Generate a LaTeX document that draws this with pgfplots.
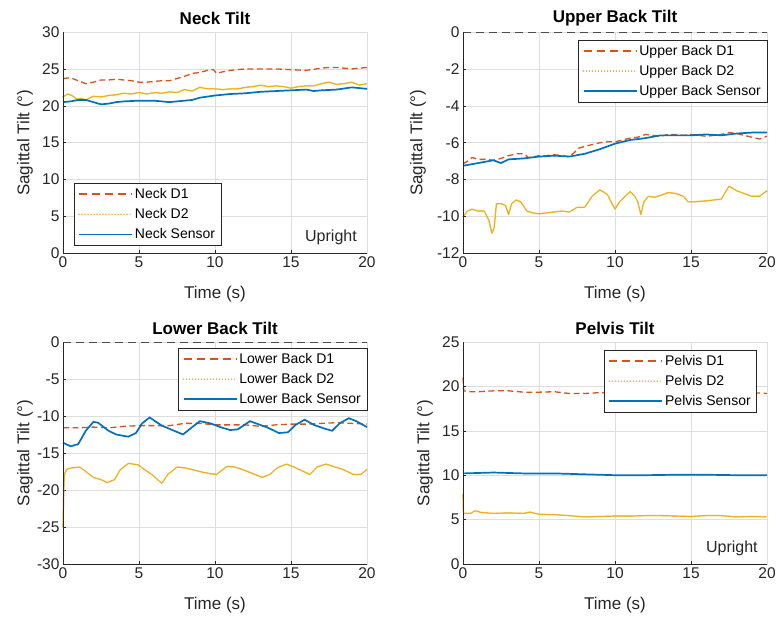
\documentclass[border=0pt]{standalone}
\usepackage{fontspec}
\setmainfont{Liberation Sans}
\usepackage{pgfplots}
\pgfplotsset{compat=1.18}
\definecolor{mblue}{rgb}{0,0.447,0.741}
\definecolor{morange}{rgb}{0.85,0.325,0.098}
\definecolor{myellow}{rgb}{0.929,0.694,0.125}
\pgfplotsset{
 tiltax/.style={
  scale only axis, width=304pt, height=222pt,
  xmin=0, xmax=20, xtick={0,5,...,20},
  axis line style={color=black!13, line width=0.5pt},
  xtick pos=bottom, ytick pos=left,
  tick align=inside, major tick length=3pt,
  tick style={color=black!85, line width=0.5pt},
  grid=major, grid style={color=black!13, line width=0.5pt},
  /pgf/number format/assume math mode=true,
  ticklabel style={font=\fontsize{15.5}{17}\selectfont, text=black!85},
  xlabel={Time (s)}, ylabel={Sagittal Tilt (°)},
  every axis title/.style={at={(axis description cs:0.5,1)}, anchor=center, yshift=14pt, font=\bfseries\fontsize{17}{19}\selectfont},
  every axis x label/.style={at={(axis description cs:0.5,0)}, anchor=center, yshift=-41pt, font=\fontsize{17}{19}\selectfont, text=black!85},
  every axis y label/.style={at={(axis description cs:0,0.5)}, anchor=center, rotate=90, yshift=38pt, font=\fontsize{17}{19}\selectfont, text=black!85},
  legend style={font=\fontsize{14}{16}\selectfont, draw=black!85, line width=0.5pt, fill=white, cells={anchor=west}, inner xsep=4pt, inner ysep=3pt, row sep=4.5pt},
  legend image code/.code={\draw[#1] (0pt,0pt) -- (48pt,0pt); \path (0pt,0pt) -- (53pt,0pt);},
  clip=false,
 },
 d1/.style={color=morange, line width=1.3pt, dash pattern=on 6pt off 3.5pt},
 d1leg/.style={draw=morange, line width=1.5pt, dash pattern=on 8pt off 5pt},
 d2/.style={color=myellow, line width=1.7pt, line cap=round, dash pattern=on 0pt off 1.0pt},
 d2leg/.style={draw=myellow, line width=1.4pt, line cap=round, dash pattern=on 0pt off 3pt},
 sen/.style={color=mblue, line width=1.7pt},
 zline/.style={color=black!70, line width=0.6pt, dash pattern=on 8pt off 5pt},
}
\newcommand{\axframe}{\draw[black!85, line width=0.5pt] (rel axis cs:0,1) -- (rel axis cs:0,0) -- (rel axis cs:1,0);}
\newcommand{\threelegend}[1]{%
  \addlegendimage{d1leg}\addlegendentry{#1 D1}%
  \addlegendimage{d2leg}\addlegendentry{#1 D2}%
  \addlegendimage{sen}\addlegendentry{#1 Sensor}}
\begin{document}
\begin{tikzpicture}
\useasboundingbox (0,0) rectangle (779pt,617pt);
% ---------------- Neck
\begin{axis}[tiltax, at={(63pt,363.5pt)}, anchor=south west, height=221.5pt,
  ymin=0, ymax=30, ytick={0,5,...,30}, title={Neck Tilt},
  legend style={at={(axis description cs:0.036,0.036)}, anchor=south west}]
\threelegend{Neck}
\addplot[d1, forget plot] coordinates {(0,23.7)(0.5,23.8)(1,23.4)(1.5,23.0)(2,23.2)(2.5,23.5)(3,23.5)(3.5,23.6)(4,23.5)(4.5,23.4)(5,23.2)(5.5,23.2)(6,23.3)(6.5,23.4)(7,23.4)(7.5,23.7)(8,24.0)(8.5,24.4)(9,24.5)(9.5,24.8)(9.9,24.9)(10.1,24.4)(10.5,24.6)(11,24.8)(12,25.0)(13,25.0)(14,25.0)(15,24.9)(16,24.8)(17,25.1)(17.5,25.2)(18,25.2)(19,25.0)(20,25.2)};
\addplot[d2, forget plot] coordinates {(0,21.2)(0.3,21.6)(0.6,21.4)(0.9,20.9)(1.2,21.0)(1.5,20.8)(2,21.3)(2.5,21.2)(3,21.4)(3.5,21.5)(4,21.7)(4.5,21.6)(5,21.8)(5.5,21.6)(6,21.8)(6.5,21.7)(7,21.9)(7.5,21.8)(8,22.2)(8.5,22.0)(9,22.5)(9.5,22.3)(10,22.3)(10.5,22.2)(11,22.3)(11.5,22.3)(12,22.5)(12.5,22.6)(13,22.8)(13.5,22.6)(14,22.7)(14.5,22.6)(15,22.4)(15.5,22.6)(16,22.7)(16.5,22.7)(17,23.0)(17.5,23.2)(18,22.9)(18.5,23.0)(19,23.2)(19.5,22.8)(20,23.0)};
\addplot[sen, forget plot] coordinates {(0,20.5)(0.5,20.6)(1,20.8)(1.5,20.8)(2,20.5)(2.5,20.2)(3,20.3)(3.5,20.5)(4,20.6)(5,20.7)(6,20.7)(7,20.5)(8,20.7)(8.5,20.8)(9,21.1)(10,21.4)(11,21.6)(12,21.7)(13,21.9)(14,22.0)(15,22.1)(16,22.2)(16.5,22.0)(17,22.1)(18,22.2)(19,22.5)(20,22.3)};
\axframe
\node[anchor=south east, font=\fontsize{16}{18}\selectfont, text=black!85, inner sep=0pt] at (axis description cs:0.967,0.04) {Upright};
\end{axis}
% ---------------- Upper back
\begin{axis}[tiltax, at={(463pt,363.5pt)}, anchor=south west, height=221.5pt,
  ymin=-12, ymax=0, ytick={-12,-10,...,0}, title={Upper Back Tilt},
  every axis y label/.append style={yshift=7pt},
  legend style={at={(axis description cs:1,0.964)}, anchor=north east}]
\threelegend{Upper Back}
\addplot[zline, forget plot] coordinates {(0,0)(20,0)};
\addplot[d1, forget plot] coordinates {(0,-7.15)(0.3,-7.0)(0.6,-6.8)(1,-6.9)(1.5,-6.9)(2,-6.95)(2.5,-6.85)(3,-6.7)(3.5,-6.6)(4,-6.6)(4.3,-6.8)(4.7,-6.75)(5,-6.7)(5.5,-6.7)(6,-6.65)(6.5,-6.7)(7,-6.75)(7.3,-6.55)(7.6,-6.3)(8,-6.2)(8.5,-6.1)(9,-6.0)(9.5,-5.95)(10,-5.95)(10.5,-5.85)(11,-5.75)(11.5,-5.7)(12,-5.55)(12.5,-5.6)(13,-5.65)(13.5,-5.55)(14,-5.55)(14.5,-5.6)(15,-5.55)(15.5,-5.6)(16,-5.65)(16.5,-5.6)(17,-5.55)(17.5,-5.45)(18,-5.5)(18.5,-5.6)(19,-5.7)(19.5,-5.8)(20,-5.65)};
\addplot[d2, forget plot] coordinates {(0,-10.0)(0.3,-9.7)(0.6,-9.6)(1,-9.7)(1.4,-9.7)(1.7,-10.2)(1.9,-10.9)(2.05,-10.6)(2.2,-9.3)(2.5,-9.3)(2.8,-9.4)(3.0,-9.9)(3.2,-9.3)(3.5,-9.1)(3.8,-9.2)(4.2,-9.7)(4.6,-9.8)(5,-9.85)(5.5,-9.8)(6,-9.75)(6.5,-9.7)(7,-9.75)(7.5,-9.5)(8,-9.5)(8.5,-8.9)(9,-8.55)(9.5,-8.8)(9.8,-9.3)(10,-9.6)(10.3,-9.2)(10.8,-8.8)(11.0,-8.65)(11.3,-8.9)(11.5,-9.2)(11.7,-9.9)(11.9,-9.2)(12.2,-8.9)(12.6,-8.95)(13,-8.85)(13.5,-8.7)(14,-8.75)(14.5,-8.9)(14.8,-9.2)(15.2,-9.2)(16,-9.15)(16.5,-9.1)(17,-9.05)(17.5,-8.35)(18,-8.6)(18.5,-8.75)(19,-8.9)(19.5,-8.9)(20,-8.6)};
\addplot[sen, forget plot] coordinates {(0,-7.25)(1,-7.1)(2,-6.95)(2.5,-7.1)(3,-6.9)(4,-6.85)(5,-6.75)(6,-6.7)(7,-6.75)(8,-6.6)(9,-6.35)(10,-6.05)(11,-5.85)(12,-5.75)(13,-5.6)(14,-5.6)(15,-5.6)(16,-5.55)(17,-5.6)(18,-5.5)(19,-5.45)(20,-5.45)};
\axframe
\end{axis}
% ---------------- Lower back
\begin{axis}[tiltax, at={(63pt,53pt)}, anchor=south west,
  ymin=-30, ymax=0, ytick={-30,-25,...,0}, title={Lower Back Tilt},
  legend style={at={(axis description cs:1,0.973)}, anchor=north east}]
\threelegend{Lower Back}
\addplot[zline, forget plot] coordinates {(0,0)(20,0)};
\addplot[d1, forget plot] coordinates {(0,-11.6)(1,-11.6)(2,-11.5)(3,-11.6)(4,-11.4)(5,-11.3)(6,-11.3)(7,-11.3)(8,-11.0)(9,-11.0)(10,-11.2)(11,-11.2)(12,-11.2)(13,-11.4)(14,-11.2)(15,-11.1)(16,-11.1)(17,-11.0)(18,-10.9)(19,-11.0)(20,-11.1)};
\addplot[d2, forget plot] coordinates {(0,-25)(0.05,-20)(0.1,-17.8)(0.24,-17.2)(0.6,-17.0)(1.1,-16.9)(1.5,-17.5)(2.0,-18.3)(2.5,-18.6)(2.9,-19.0)(3.4,-18.6)(3.75,-17.3)(4.3,-16.4)(4.95,-16.6)(5.4,-17.3)(5.9,-18.0)(6.5,-19.1)(6.9,-17.9)(7.5,-16.9)(8.0,-17.0)(8.6,-17.3)(9.2,-17.6)(9.7,-17.8)(10.1,-17.9)(10.8,-16.8)(11.3,-16.9)(11.9,-17.3)(12.5,-17.8)(13.1,-18.3)(13.6,-17.9)(14.1,-17.0)(14.7,-16.5)(15.2,-16.9)(15.6,-17.3)(16.25,-17.9)(16.7,-16.9)(17.3,-16.5)(17.9,-16.9)(18.4,-17.2)(19.1,-17.9)(19.6,-17.9)(20,-17.2)};
\addplot[sen, forget plot] coordinates {(0,-13.6)(0.5,-14.1)(1,-13.8)(1.5,-12.0)(2,-10.8)(2.3,-10.9)(3,-12.0)(3.5,-12.5)(4.3,-12.8)(4.8,-12.3)(5.2,-11.0)(5.7,-10.2)(6.5,-11.3)(7.2,-11.9)(7.9,-12.5)(8.5,-11.5)(9,-10.7)(9.7,-11.0)(10.5,-11.6)(11,-11.9)(11.5,-11.8)(12.3,-10.7)(12.7,-11.0)(13.5,-11.6)(14.2,-12.3)(14.8,-12.2)(15.3,-11.2)(15.9,-10.5)(16.5,-11.2)(17.2,-11.7)(17.7,-12.0)(18.2,-11.0)(18.8,-10.3)(19.3,-10.7)(20,-11.5)};
\axframe
\end{axis}
% ---------------- Pelvis
\begin{axis}[tiltax, at={(463pt,53pt)}, anchor=south west,
  ymin=0, ymax=25, ytick={0,5,...,25}, title={Pelvis Tilt},
  legend style={at={(axis description cs:0.967,0.964)}, anchor=north east}]
\threelegend{Pelvis}
\addplot[d1, forget plot] coordinates {(0,21.0)(0.05,19.5)(0.5,19.4)(1,19.4)(2,19.5)(3,19.5)(4,19.35)(5,19.35)(6,19.4)(7,19.2)(8,19.2)(9,19.3)(10,19.3)(12,19.35)(14,19.3)(16,19.3)(18,19.3)(19,19.3)(20,19.2)};
\addplot[d2, forget plot] coordinates {(0,7.8)(0.03,5.7)(0.5,5.7)(0.8,6.0)(1.2,5.8)(2,5.7)(3,5.75)(4,5.7)(4.4,5.85)(5,5.6)(6,5.55)(7,5.45)(8,5.3)(9,5.35)(10,5.4)(11,5.4)(12,5.45)(13,5.45)(14,5.4)(15,5.35)(16,5.45)(17,5.45)(18,5.3)(19,5.35)(20,5.3)};
\addplot[sen, forget plot] coordinates {(0,10.2)(2,10.3)(4,10.2)(6,10.2)(8,10.1)(10,10.0)(12,10.0)(14,10.05)(16,10.05)(18,10.0)(20,10.0)};
\axframe
\node[anchor=south east, font=\fontsize{16}{18}\selectfont, text=black!85, inner sep=0pt] at (axis description cs:0.97,0.036) {Upright};
\end{axis}
\end{tikzpicture}
\end{document}
